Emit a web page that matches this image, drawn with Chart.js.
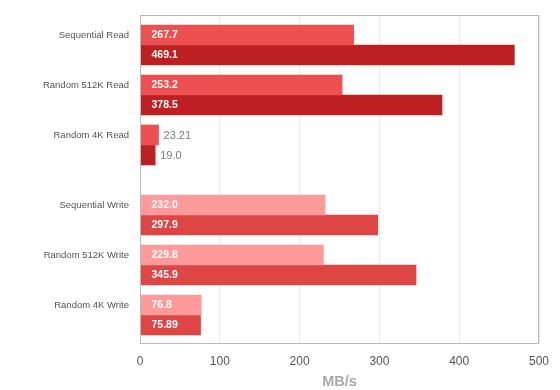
<!DOCTYPE html>
<html>
<head>
<meta charset="utf-8">
<script src="https://cdn.jsdelivr.net/npm/chart.js@4/dist/chart.umd.min.js"></script>
<style>
  html, body { margin: 0; padding: 0; background: #fff; }
  #wrap { width: 560px; height: 390px; }
</style>
</head>
<body>
<div id="wrap"><canvas id="myChart" width="560" height="390"></canvas></div>
<script>
const categories = ['Sequential Read', 'Random 512K Read', 'Random 4K Read',
    'Sequential Write', 'Random 512K Write', 'Random 4K Write']
const firstValues = [267.7, 253.2, 23.21, 232.0, 229.8, 76.8]
const secondValues = [469.1, 378.5, 19.0, 297.9, 345.9, 75.89]
const firstLabels = ['267.7', '253.2', '23.21', '232.0', '229.8', '76.8']
const secondLabels = ['469.1', '378.5', '19.0', '297.9', '345.9', '75.89']
const xTicks = [0, 100, 200, 300, 400, 500]

// read rows then write rows, with a wider gap between the two groups
const rowPos = categories.map((c, i) => i + (i >= 3 ? 0.4 : 0))
const isWrite = categories.map((c, i) => i >= 3)

const firstColors = isWrite.map(w => w ? '#fe9a9a' : '#ec5050')
const secondColors = isWrite.map(w => w ? '#de4545' : '#bc2023')

const toPoints = vals => vals.map((v, i) => ({ x: v, y: rowPos[i] }))

const valueLabels = {
    id: 'valueLabels',
    afterDatasetsDraw(chart) {
        const ctx = chart.ctx
        const texts = [firstLabels, secondLabels]
        ctx.save()
        ctx.textBaseline = 'middle'
        ctx.textAlign = 'left'
        chart.data.datasets.forEach((ds, di) => {
            chart.getDatasetMeta(di).data.forEach((bar, i) => {
                const txt = texts[di][i]
                const barW = bar.x - bar.base
                ctx.font = 'bold 10.5px "Liberation Sans", Arial, sans-serif'
                const w = ctx.measureText(txt).width
                if (barW > w + 16) {
                    ctx.fillStyle = '#ffffff'
                    ctx.fillText(txt, bar.base + 11, bar.y + 0.5)
                } else {
                    ctx.font = '11px "Liberation Sans", Arial, sans-serif'
                    ctx.fillStyle = '#7a7a7a'
                    ctx.fillText(txt, bar.x + 5, bar.y + 0.5)
                }
            })
        })
        ctx.restore()
    }
}

const frame = {
    id: 'frame',
    afterDraw(chart) {
        const a = chart.chartArea
        const ctx = chart.ctx
        ctx.save()
        ctx.strokeStyle = '#bbbbbb'
        ctx.lineWidth = 1
        ctx.strokeRect(Math.round(a.left) + 0.5, Math.round(a.top) + 0.5,
            Math.round(a.right - a.left) - 1, Math.round(a.bottom - a.top) - 1)
        ctx.restore()
    }
}

const ctx = document.getElementById('myChart').getContext('2d')

const myChart = new Chart(ctx, {
    type: 'bar',
    data: {
        datasets: [
            {
                label: 'first',
                data: toPoints(firstValues),
                backgroundColor: firstColors,
                barThickness: 20
            },
            {
                label: 'second',
                data: toPoints(secondValues),
                backgroundColor: secondColors,
                barThickness: 20
            }
        ]
    },
    options: {
        indexAxis: 'y',
        responsive: false,
        animation: false,
        layout: {
            padding: { top: 15, right: 21, bottom: 0, left: 0 }
        },
        scales: {
            x: {
                type: 'linear',
                min: 0,
                max: 500,
                afterBuildTicks: axis => {
                    axis.ticks = xTicks.map(v => ({ value: v }))
                },
                afterFit: axis => { axis.height = 46 },
                grid: { color: '#e9e9e9', drawTicks: false },
                border: { display: false },
                ticks: {
                    padding: 10,
                    color: '#555',
                    font: { family: '"Liberation Sans", Arial, sans-serif', size: 12 }
                },
                title: {
                    display: true,
                    text: 'MB/s',
                    color: '#a8a8a8',
                    padding: { top: 0, bottom: 1 },
                    font: { family: '"Liberation Sans", Arial, sans-serif', size: 14.5, weight: 'bold', lineHeight: 1 }
                }
            },
            y: {
                type: 'linear',
                reverse: true,
                offset: false,
                min: -0.6,
                max: 5.98,
                afterBuildTicks: axis => {
                    axis.ticks = rowPos.map(v => ({ value: v }))
                },
                afterFit: axis => {
                    axis.width = 140
                    axis.paddingTop = 0
                    axis.paddingBottom = 0
                },
                grid: { display: false, drawTicks: false, offset: false },
                border: { display: false },
                ticks: {
                    padding: 11,
                    labelOffset: -10,
                    color: '#555',
                    font: { family: '"Liberation Sans", Arial, sans-serif', size: 9.5 },
                    callback: (value, index) => categories[index]
                }
            }
        },
        plugins: {
            legend: { display: false },
            tooltip: { enabled: false }
        }
    },
    plugins: [valueLabels, frame]
})
</script>
</body>
</html>
